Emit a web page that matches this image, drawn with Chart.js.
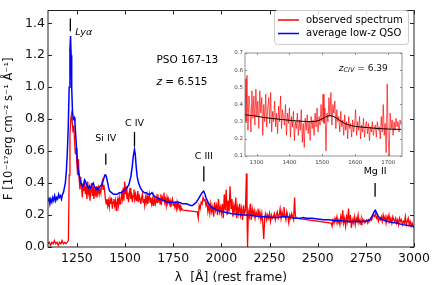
<!DOCTYPE html>
<html>
<head>
<meta charset="utf-8">
<script src="https://cdn.jsdelivr.net/npm/chart.js@4.4.1/dist/chart.umd.min.js"></script>
<style>
  html, body { margin: 0; padding: 0; background: #fff; }
  #wrap { position: relative; width: 436px; height: 285px; }
  #main { position: absolute; left: 0; top: 0; }
  #inset { position: absolute; left: 225px; top: 45px; }
</style>
</head>
<body>
<div id="wrap">
  <canvas id="main" width="436" height="285"></canvas>
  <canvas id="inset" width="185" height="125"></canvas>
</div>
<script>
// observed spectrum (red)
const redWave = [1100,1107,1113,1120,1127,1133,1140,1147,1153,1160,1167,1173,1180,1187,1193,1200,1206,
  1210,1214,1218,1222,1226,1230,1234,1238,1242,1246,1250,1254,1258,1262,1266,1270,1274,1278,1282,1286,1290,1294,1298,
  1302,1306,1310,1314,1318,1322,1326,1330,1334,1338,1342,1346,1350,1354,1358,1362,1366,1370,1374,1378,1382,1386,1390,1394,1398,
  1402,1406,1410,1414,1418,1422,1426,1430,1434,1438,1442,1446,1450,1454,1458,1462,1466,1470,1474,1478,1482,1486,1490,1494,1498,
  1502,1506,1510,1514,1518,1522,1526,1530,1534,1538,1542,1546,1550,1554,1558,1562,1566,1570,1574,1578,1582,1586,1590,1594,1598,
  1602,1606,1610,1614,1618,1622,1626,1630,1634,1638,1642,1646,1650,1654,1658,1662,1666,1670,1674,1678,1682,1686,1690,1694,1698,
  1702,1706,1710,1714,1718,1722,1726,1730,1734,1738,1742,1746,1750,1754,1758,1762,1766,1770,1774,1778,1782,1786,1790,1795,1800,
  1875,1880,1885,1890,1895,1900,1905,1910,1915,1920,1925,1930,1935,1940,1945,1950,1955,1960,1965,1970,1975,1980,1985,1990,1995,
  2000,2005,2010,2015,2020,2025,2030,2035,2040,2045,2050,2055,2060,2065,2070,2075,2080,2085,2090,2095,2100,2105,2110,2115,2120,2125,
  2130,2133,2136,2140,2145,2150,2155,2160,2165,2170,2175,2180,2185,2190,2195,2200,2205,2210,2215,2220,2225,2230,2235,2240,2245,
  2250,2255,2260,2265,2270,2275,2280,2285,2290,2295,2300,2305,2310,2315,2320,2325,2330,2335,2340,2345,2350,2355,2360,2365,2370,2375,
  2380,2384,2388,
  2570,2575,2580,2585,2590,2595,2600,2605,2610,2615,2620,2625,2630,2635,2640,2645,2650,2655,2660,2665,2670,2675,2680,2685,2690,2695,
  2700,2705,2710,2715,2720,2725,2730,2735,2740,2745,2750,2755,2760,2765,2770,2775,2780,2785,2790,2795,2800,2805,2810,2815,2820,2825,
  2830,2835,2840,2845,2850,2855,2860,2865,2870,2875,2880,2885,2890,2895,2900,2905,2910,2915,2920,2925,2930,2935,2940,2945,2950,2955,
  2960,2965,2970,2975,2980,2985,2990,2995,3000];
const redFlux = [0.02,0.03,0.01,0.03,0.02,0.04,0.02,0.03,0.01,0.03,0.02,0.04,0.02,0.03,0.02,0.03,0.04,
  0.45,0.70,0.80,0.83,0.78,0.72,0.76,0.66,0.58,0.62,0.52,0.45,0.55,0.42,0.36,0.44,0.38,0.31,0.40,0.35,0.42,0.33,0.38,
  0.30,0.41,0.34,0.37,0.29,0.36,0.40,0.32,0.38,0.30,0.35,0.33,0.38,0.31,0.34,0.37,0.33,0.36,0.34,0.38,0.41,0.36,0.39,0.35,0.30,
  0.27,0.30,0.26,0.29,0.25,0.30,0.27,0.31,0.24,0.28,0.30,0.26,0.29,0.23,0.28,0.30,0.26,0.31,0.27,0.29,0.33,0.30,0.37,0.29,0.41,
  0.33,0.38,0.30,0.34,0.28,0.33,0.37,0.30,0.34,0.28,0.32,0.36,0.30,0.33,0.29,0.31,0.35,0.28,0.32,0.30,0.27,0.31,0.33,0.28,0.30,
  0.26,0.31,0.28,0.32,0.27,0.30,0.33,0.28,0.31,0.27,0.30,0.26,0.32,0.29,0.27,0.31,0.28,0.33,0.29,0.30,0.27,0.33,0.28,0.31,0.29,
  0.34,0.28,0.30,0.26,0.31,0.28,0.30,0.27,0.29,0.25,0.28,0.30,0.26,0.28,0.25,0.27,0.24,0.28,0.25,0.27,0.24,0.26,0.23,0.24,0.23,
  0.22,0.18,0.26,0.24,0.28,0.27,0.31,0.29,0.30,0.26,0.28,0.22,0.26,0.21,0.27,0.22,0.25,0.19,0.28,0.23,0.26,0.20,0.30,0.22,0.25,
  0.21,0.27,0.18,0.33,0.23,0.36,0.20,0.29,0.22,0.38,0.24,0.30,0.19,0.26,0.22,0.31,0.18,0.25,0.21,0.27,0.20,0.24,0.17,0.26,0.21,0.23,
  0.46,0.20,0.00,0.22,0.19,0.27,0.17,0.24,0.20,0.23,0.18,0.22,0.20,0.24,0.19,0.22,0.17,0.21,0.15,0.05,0.19,0.21,0.17,0.20,0.18,
  0.21,0.16,0.20,0.18,0.19,0.21,0.17,0.20,0.22,0.18,0.20,0.24,0.18,0.22,0.19,0.25,0.20,0.17,0.22,0.19,0.15,0.20,0.18,0.21,0.19,0.17,
  0.31,0.20,0.18,
  0.15,0.13,0.17,0.15,0.18,0.16,0.19,0.15,0.17,0.14,0.19,0.16,0.23,0.15,0.18,0.13,0.19,0.16,0.24,0.15,0.20,0.12,0.17,0.15,0.19,0.14,
  0.18,0.16,0.20,0.15,0.17,0.14,0.18,0.16,0.17,0.15,0.16,0.17,0.15,0.17,0.16,0.18,0.17,0.19,0.20,0.19,0.21,0.18,0.19,0.16,0.18,0.17,
  0.19,0.16,0.20,0.17,0.19,0.15,0.19,0.17,0.20,0.16,0.18,0.15,0.19,0.17,0.16,0.18,0.15,0.17,0.14,0.18,0.16,0.17,0.14,0.16,0.15,0.19,
  0.14,0.16,0.18,0.14,0.16,0.13,0.15,0.13,0.12];

// average low-z QSO template (blue)
const blueWave = [1100,1105,1110,1115,1120,1125,1130,1135,1140,1145,1150,1155,1160,1165,1170,1175,1180,1185,1190,1195,
  1200,1205,1210,1214,1217,1220,1223,1227,1231,1236,1240,1245,1250,1255,1260,1265,1270,1275,1280,1285,1290,1295,
  1300,1305,1310,1315,1320,1325,1330,1335,1340,1345,1350,1355,1360,1365,1370,1375,1380,1385,1390,1395,1400,1405,1410,1415,1420,
  1430,1440,1450,1460,1470,1480,1490,1500,1510,1520,1530,1537,1543,1549,1553,1558,1563,1570,1580,1590,1600,1610,1620,1630,1640,1645,
  1650,1660,1680,1700,1720,1740,1760,1780,1800,1820,1840,1850,1860,1870,1880,1890,1900,1908,1915,1920,1930,1940,1950,1970,1990,
  2010,2030,2050,2080,2110,2140,2170,2200,2230,2260,2290,2320,2340,2360,2390,2410,2425,2440,2470,2500,2530,2560,2590,2620,2650,
  2680,2710,2740,2760,2775,2785,2795,2800,2807,2815,2830,2850,2880,2910,2940,2970,3000];
const blueFlux = [0.29,0.31,0.27,0.30,0.28,0.31,0.29,0.32,0.29,0.31,0.30,0.33,0.31,0.32,0.30,0.33,0.34,0.37,0.40,0.47,
  0.58,0.75,1.00,1.24,1.32,1.20,1.00,0.85,0.80,0.81,0.78,0.68,0.58,0.50,0.46,0.43,0.40,0.39,0.38,0.39,0.42,0.41,
  0.39,0.38,0.37,0.38,0.37,0.38,0.39,0.40,0.38,0.37,0.36,0.37,0.36,0.37,0.38,0.38,0.39,0.41,0.43,0.45,0.45,0.43,0.40,0.37,0.35,
  0.34,0.33,0.33,0.33,0.34,0.34,0.35,0.36,0.37,0.39,0.44,0.50,0.57,0.61,0.58,0.50,0.44,0.40,0.37,0.35,0.34,0.34,0.33,0.33,0.34,0.33,
  0.32,0.31,0.30,0.29,0.28,0.28,0.28,0.28,0.27,0.27,0.26,0.26,0.27,0.28,0.30,0.32,0.34,0.35,0.33,0.31,0.28,0.26,0.25,0.235,0.225,
  0.22,0.215,0.21,0.205,0.2,0.2,0.195,0.19,0.19,0.185,0.185,0.19,0.19,0.185,0.18,0.18,0.185,0.18,0.18,0.175,0.17,0.17,0.165,0.165,0.16,
  0.16,0.16,0.16,0.165,0.175,0.2,0.225,0.23,0.21,0.19,0.175,0.165,0.155,0.15,0.14,0.135,0.13];

const xTicks = [1250,1500,1750,2000,2250,2500,2750,3000];
const yTicks = [0.0,0.2,0.4,0.6,0.8,1.0,1.2,1.4];

const lineNames = ['Ly\u03b1','Si IV','C IV','C III','Mg II'];
const lineWaves = [1216,1400,1549,1909,2798];

// inset: zoom on C IV region
const insetWave = [1265,1268,1271,1274,1277,1280,1283,1286,1289,1292,1295,1298,1301,1304,1307,1310,1313,1316,1319,1322,1325,1328,
  1331,1334,1337,1340,1343,1346,1349,1352,1355,1358,1361,1364,1367,1370,1373,1376,1379,1382,1385,1388,1391,1394,1397,1400,1403,
  1406,1409,1412,1415,1418,1421,1424,1427,1430,1433,1436,1439,1442,1445,1448,1451,1454,1457,1460,1463,1466,1469,1472,1475,1478,
  1481,1484,1487,1490,1493,1496,1499,1502,1505,1508,1511,1514,1517,1520,1523,1526,1529,1532,1535,1538,1541,1544,1547,1550,1553,
  1556,1559,1562,1565,1568,1571,1574,1577,1580,1583,1586,1589,1592,1595,1598,1601,1604,1607,1610,1613,1616,1619,1622,1625,1628,
  1631,1634,1637,1640,1643,1646,1649,1652,1655,1658,1661,1664,1667,1670,1673,1676,1679,1682,1685,1688,1691,1694,1697,1700,1703,
  1706,1709,1712,1715,1718,1721,1724,1727,1730,1733,1736,1740];
const insetFlux = [0.55,0.30,0.57,0.25,0.45,0.38,0.24,0.48,0.32,0.45,0.28,0.49,0.33,0.42,0.26,0.48,0.35,0.44,0.22,0.40,0.30,0.46,
  0.27,0.38,0.44,0.29,0.47,0.24,0.36,0.30,0.42,0.27,0.35,0.23,0.39,0.30,0.45,0.26,0.37,0.32,0.28,0.40,0.22,0.35,0.29,0.38,0.21,
  0.33,0.27,0.36,0.19,0.30,0.26,0.35,0.22,0.31,0.25,0.37,0.18,0.29,0.15,0.32,0.25,0.34,0.23,0.30,0.19,0.33,0.26,0.31,0.22,0.35,
  0.27,0.38,0.24,0.33,0.28,0.40,0.30,0.46,0.29,0.38,0.13,0.35,0.30,0.44,0.33,0.47,0.28,0.40,0.35,0.42,0.26,0.37,0.30,0.33,0.24,
  0.36,0.27,0.31,0.22,0.34,0.25,0.30,0.20,0.33,0.26,0.29,0.21,0.31,0.24,0.28,0.37,0.22,0.30,0.25,0.33,0.20,0.28,0.24,0.32,0.21,
  0.27,0.30,0.23,0.29,0.19,0.27,0.24,0.30,0.22,0.26,0.28,0.21,0.30,0.25,0.27,0.20,0.33,0.24,0.40,0.22,0.29,0.12,0.52,0.20,0.10,
  0.35,0.26,0.31,0.22,0.30,0.25,0.32,0.27,0.30,0.24,0.31,0.28];
const fitWave = [1265,1290,1320,1350,1380,1410,1440,1465,1480,1495,1510,1522,1532,1545,1560,1575,1590,1610,1640,1670,1700,1740];
const fitFlux = [0.34,0.335,0.325,0.318,0.312,0.306,0.302,0.30,0.302,0.312,0.327,0.335,0.332,0.318,0.298,0.284,0.276,0.27,0.265,0.26,0.257,0.255];
const insetXTicks = [1300,1400,1500,1600,1700];
const insetYTicks = [0.1,0.2,0.3,0.4,0.5,0.6,0.7];

const FONT = "'DejaVu Sans', sans-serif";

function pairs(xs, ys) {
    return xs.map((x, i) => ({x: x, y: ys[i]}));
}

// box + inward ticks on every side, like matplotlib
const framePlugin = {
    id: 'frame',
    afterDatasetsDraw(chart, args, opts) {
        const ctx = chart.ctx;
        const a = chart.chartArea;
        const x = chart.scales.x, y = chart.scales.y;
        ctx.save();
        ctx.strokeStyle = opts.color;
        ctx.lineWidth = opts.width;
        ctx.strokeRect(a.left, a.top, a.right - a.left, a.bottom - a.top);
        ctx.beginPath();
        x.ticks.forEach(t => {
            const px = Math.round(x.getPixelForValue(t.value)) + 0.5;
            ctx.moveTo(px, a.bottom); ctx.lineTo(px, a.bottom - opts.len);
            ctx.moveTo(px, a.top); ctx.lineTo(px, a.top + opts.len);
        });
        y.ticks.forEach(t => {
            const py = Math.round(y.getPixelForValue(t.value)) + 0.5;
            ctx.moveTo(a.left, py); ctx.lineTo(a.left + opts.len, py);
            ctx.moveTo(a.right, py); ctx.lineTo(a.right - opts.len, py);
        });
        ctx.stroke();
        ctx.restore();
    }
};

// emission line marks, object name, legend
const notesPlugin = {
    id: 'notes',
    afterDraw(chart) {
        const ctx = chart.ctx;
        const x = chart.scales.x, y = chart.scales.y;
        const marks = [[1.43, 1.35], [0.585, 0.515], [0.72, 0.63], [0.505, 0.41], [0.40, 0.315]];
        const labelY = [null, 0.677, 0.77, 0.565, 0.47];
        ctx.save();
        ctx.strokeStyle = '#000';
        ctx.fillStyle = '#000';
        ctx.lineWidth = 1.3;
        lineWaves.forEach((w, i) => {
            const px = x.getPixelForValue(w);
            ctx.beginPath();
            ctx.moveTo(px, y.getPixelForValue(marks[i][0]));
            ctx.lineTo(px, y.getPixelForValue(marks[i][1]));
            ctx.stroke();
            ctx.textBaseline = 'middle';
            if (i === 0) {
                ctx.font = 'italic 9.5px ' + FONT;
                ctx.textAlign = 'left';
                ctx.fillText(lineNames[i], px + 5, y.getPixelForValue(1.345));
            } else {
                ctx.font = '9.5px ' + FONT;
                ctx.textAlign = 'center';
                ctx.fillText(lineNames[i], px, y.getPixelForValue(labelY[i]));
            }
        });

        // object name and redshift
        const tx = x.getPixelForValue(1663);
        ctx.textAlign = 'left';
        ctx.font = '10.5px ' + FONT;
        ctx.fillText('PSO 167-13', tx, y.getPixelForValue(1.17));
        const zy = y.getPixelForValue(1.03);
        ctx.font = 'italic 10.5px ' + FONT;
        ctx.fillText('z', tx, zy);
        const zw = ctx.measureText('z').width;
        ctx.font = '10.5px ' + FONT;
        ctx.fillText(' = 6.515', tx + zw, zy);

        // legend
        const lx = 274, ly = 10, lw = 134, lh = 34;
        ctx.fillStyle = 'rgba(255,255,255,0.85)';
        ctx.strokeStyle = '#cccccc';
        ctx.lineWidth = 1;
        ctx.beginPath();
        ctx.roundRect(lx + 0.5, ly + 0.5, lw, lh, 3);
        ctx.fill();
        ctx.stroke();
        const items = [['observed spectrum', '#ff0000'], ['average low-z QSO', '#0000ff']];
        items.forEach((it, i) => {
            const yy = ly + 10 + i * 13.5;
            ctx.strokeStyle = it[1];
            ctx.lineWidth = 1.5;
            ctx.beginPath();
            ctx.moveTo(lx + 4, yy);
            ctx.lineTo(lx + 25, yy);
            ctx.stroke();
            ctx.fillStyle = '#000';
            ctx.font = '10px ' + FONT;
            ctx.fillText(it[0], lx + 32, yy);
        });
        ctx.restore();
    }
};

new Chart(document.getElementById('main'), {
    type: 'line',
    data: {
        datasets: [
            {
                label: 'observed spectrum',
                data: pairs(redWave, redFlux),
                borderColor: '#ff0000',
                borderWidth: 1.3,
                pointRadius: 0,
                order: 2
            },
            {
                label: 'average low-z QSO',
                data: pairs(blueWave, blueFlux),
                borderColor: '#0000ff',
                borderWidth: 1.5,
                pointRadius: 0,
                order: 1
            }
        ]
    },
    options: {
        responsive: false,
        animation: false,
        layout: { padding: { top: 6, right: 22, left: 0, bottom: 0 } },
        plugins: {
            legend: { display: false },
            tooltip: { enabled: false },
            frame: { color: '#222', width: 1, len: 4 }
        },
        scales: {
            x: {
                type: 'linear',
                min: 1100,
                max: 3000,
                afterBuildTicks: s => { s.ticks = xTicks.map(v => ({ value: v })); },
                afterFit: s => { s.height = 38; },
                grid: { display: false, drawTicks: false },
                border: { display: false },
                ticks: { padding: 4, color: '#111', font: { family: FONT, size: 12.5 }, maxRotation: 0, callback: v => String(v) },
                title: { display: true, text: '\u03bb  [\u00c5] (rest frame)', color: '#111', padding: { top: 2, bottom: 0 }, font: { family: FONT, size: 12.5 } }
            },
            y: {
                type: 'linear',
                min: 0,
                max: 1.48,
                afterBuildTicks: s => { s.ticks = yTicks.map(v => ({ value: v })); },
                afterFit: s => { s.width = 48; },
                grid: { display: false, drawTicks: false },
                border: { display: false },
                ticks: { padding: 3, color: '#111', font: { family: FONT, size: 12.5 }, callback: v => v.toFixed(1) },
                title: { display: true, text: 'F [10\u207b\u00b9\u2077erg cm\u207b\u00b2 s\u207b\u00b9 \u00c5\u207b\u00b9]', color: '#111', padding: { top: 2, bottom: 0 }, font: { family: FONT, size: 11.5 } }
            }
        }
    },
    plugins: [framePlugin, notesPlugin]
});

// label inside the inset
const insetNote = {
    id: 'insetNote',
    afterDraw(chart) {
        const ctx = chart.ctx;
        const x = chart.scales.x, y = chart.scales.y;
        let px = x.getPixelForValue(1550);
        const py = y.getPixelForValue(0.61);
        ctx.save();
        ctx.fillStyle = '#111';
        ctx.textBaseline = 'middle';
        ctx.textAlign = 'left';
        ctx.font = 'italic 9px ' + FONT;
        ctx.fillText('z', px, py);
        px += ctx.measureText('z').width;
        ctx.font = 'italic 6.5px ' + FONT;
        ctx.fillText('CIV', px, py + 2);
        px += ctx.measureText('CIV').width;
        ctx.font = '9px ' + FONT;
        ctx.fillText(' = 6.39', px, py);
        ctx.restore();
    }
};

new Chart(document.getElementById('inset'), {
    type: 'line',
    data: {
        datasets: [
            {
                data: pairs(fitWave, fitFlux),
                borderColor: '#000000',
                borderWidth: 1,
                pointRadius: 0,
                cubicInterpolationMode: 'monotone',
                order: 1
            },
            {
                data: pairs(insetWave, insetFlux),
                borderColor: 'rgba(255,0,0,0.75)',
                borderWidth: 0.9,
                pointRadius: 0,
                order: 2
            }
        ]
    },
    options: {
        responsive: false,
        animation: false,
        layout: { padding: { top: 8, right: 8, left: 0, bottom: 0 } },
        plugins: {
            legend: { display: false },
            tooltip: { enabled: false },
            frame: { color: '#777', width: 0.8, len: 2 }
        },
        scales: {
            x: {
                type: 'linear',
                min: 1265,
                max: 1742,
                afterBuildTicks: s => { s.ticks = insetXTicks.map(v => ({ value: v })); },
                afterFit: s => { s.height = 14; },
                grid: { display: false, drawTicks: false },
                border: { display: false },
                ticks: { padding: 3, color: '#444', font: { family: FONT, size: 5.5 }, maxRotation: 0, callback: v => String(v) }
            },
            y: {
                type: 'linear',
                min: 0.1,
                max: 0.7,
                afterBuildTicks: s => { s.ticks = insetYTicks.map(v => ({ value: v })); },
                afterFit: s => { s.width = 20; },
                grid: { display: false, drawTicks: false },
                border: { display: false },
                ticks: { padding: 2, color: '#444', font: { family: FONT, size: 5.5 }, callback: v => v.toFixed(1) }
            }
        }
    },
    plugins: [framePlugin, insetNote]
});
</script>
</body>
</html>
